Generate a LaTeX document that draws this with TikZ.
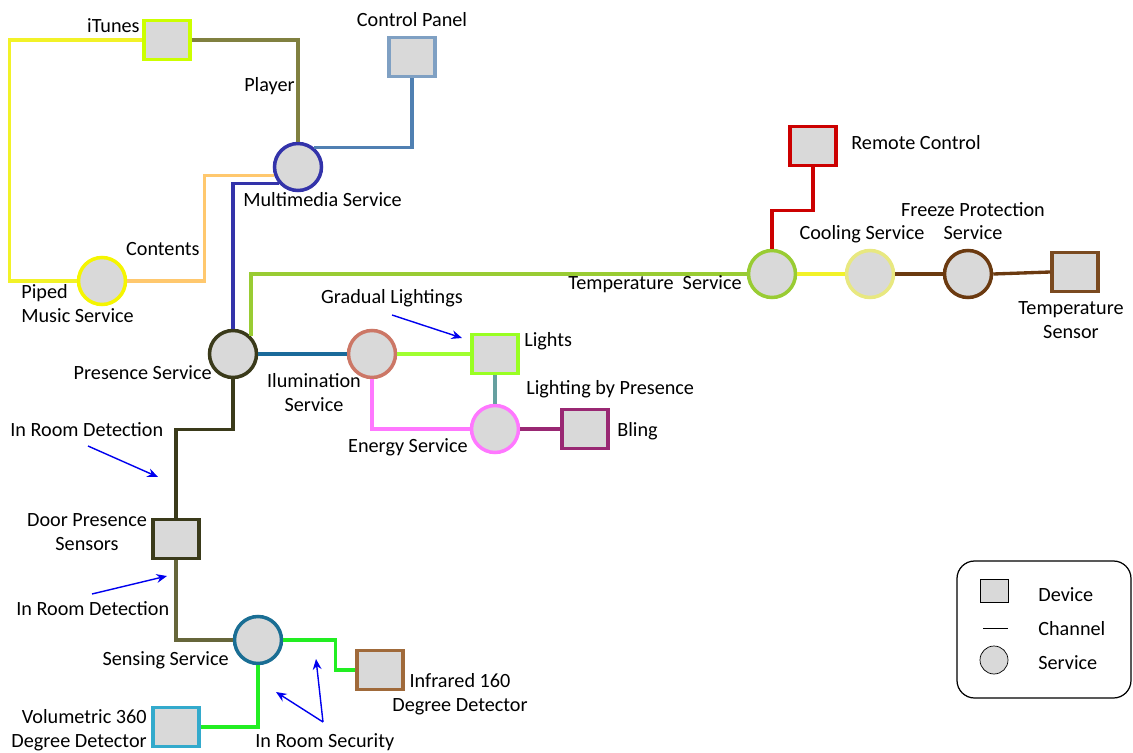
\documentclass[tikz,border=0pt]{standalone}
\usepackage{fontspec}
\setmainfont{Carlito}
\usetikzlibrary{arrows.meta}

\definecolor{boxgray}{RGB}{217,217,217}
\definecolor{itunesc}{RGB}{204,255,0}
\definecolor{yelc}{RGB}{242,242,40}
\definecolor{pipedc}{RGB}{245,245,0}
\definecolor{olivec}{RGB}{128,128,64}
\definecolor{panelc}{RGB}{127,160,195}
\definecolor{panelline}{RGB}{80,128,178}
\definecolor{mmc}{RGB}{51,51,170}
\definecolor{orangec}{RGB}{255,200,110}
\definecolor{tempc}{RGB}{153,204,51}
\definecolor{presc}{RGB}{58,58,26}
\definecolor{tealc}{RGB}{26,106,154}
\definecolor{ilumc}{RGB}{204,119,102}
\definecolor{limec}{RGB}{160,255,48}
\definecolor{lightsc}{RGB}{153,255,34}
\definecolor{grayteal}{RGB}{102,160,160}
\definecolor{pinkc}{RGB}{255,119,255}
\definecolor{blingc}{RGB}{153,40,115}
\definecolor{coolc}{RGB}{232,232,128}
\definecolor{brownc}{RGB}{107,58,16}
\definecolor{sensorc}{RGB}{122,74,32}
\definecolor{remotec}{RGB}{204,0,0}
\definecolor{greyolive}{RGB}{102,102,58}
\definecolor{sensec}{RGB}{26,110,148}
\definecolor{greenc}{RGB}{34,238,34}
\definecolor{infrac}{RGB}{160,106,58}
\definecolor{volc}{RGB}{51,170,204}
\definecolor{notec}{RGB}{0,0,238}

\begin{document}
\begin{tikzpicture}[x=0.02cm,y=-0.02cm,font=\fontsize{11.5}{13.6}\selectfont]
    \tikzset{device/.style = {draw,fill=boxgray,line width=2pt,minimum width=0.92cm,minimum height=0.78cm,inner sep=0}}
    \tikzset{service/.style = {shape=circle,draw,fill=boxgray,line width=2pt,minimum size=0.94cm,inner sep=0}}
    \tikzset{channel/.style = {line width=1.9pt}}
    \tikzset{note/.style = {-{Stealth[length=6pt,width=5pt]},notec,line width=0.8pt}}
    \tikzset{lbl/.style = {inner sep=0}}
    \useasboundingbox (0,0) rectangle (1133,753);

    \node[device,draw=itunesc] (itunes) at (167,40) {};
    \node[device,draw=panelc] (panel) at (412,57) {};
    \node[service,draw=mmc] (mm) at (298,167) {};
    \node[service,draw=pipedc] (piped) at (102,281) {};
    \node[service,draw=presc] (pres) at (233,354) {};
    \node[service,draw=ilumc] (ilum) at (372,354) {};
    \node[device,draw=lightsc] (lights) at (495,354) {};
    \node[service,draw=pinkc] (energy) at (495,429) {};
    \node[device,draw=blingc] (bling) at (585,429) {};
    \node[service,draw=tempc] (temp) at (772,274) {};
    \node[service,draw=coolc] (cool) at (870,274) {};
    \node[service,draw=brownc] (freeze) at (968,274) {};
    \node[device,draw=sensorc] (tsensor) at (1075,272) {};
    \node[device,draw=remotec] (remote) at (813,146) {};
    \node[device,draw=presc] (door) at (176,539) {};
    \node[service,draw=sensec] (sense) at (258,640) {};
    \node[device,draw=infrac] (infra) at (380,670) {};
    \node[device,draw=volc] (vol) at (176,727) {};

    \draw[channel,yelc] (itunes.west) -- ++(-133,0) |- (piped.west);
    \draw[channel,olivec] (itunes.east) -| (mm.north);
    \draw[channel,panelline] (mm.50) -| (panel.south);
    \draw[channel,orangec] (piped.east) -- ++(77,0) |- (mm.199);
    \draw[channel,mmc] (mm.220) -| (pres.north);
    \draw[channel,tempc] (pres.45) |- (temp.west);
    \draw[channel,tealc] (pres.east) -- (ilum.west);
    \draw[channel,limec] (ilum.east) -- (lights.west);
    \draw[channel,grayteal] (lights.south) -- (energy.north);
    \draw[channel,pinkc] (ilum.south) |- (energy.west);
    \draw[channel,blingc] (energy.east) -- (bling.west);
    \draw[channel,yelc] (temp.east) -- (cool.west);
    \draw[channel,brownc] (cool.east) -- (freeze.west);
    \draw[channel,brownc] (freeze.east) -- (tsensor.west);
    \draw[channel,remotec] (remote.south) -- ++(0,43) -| (temp.north);
    \draw[channel,presc] (pres.south) -- ++(0,50) -| (door.north);
    \draw[channel,greyolive] (door.south) |- (sense.west);
    \draw[channel,greenc] (sense.east) -- ++(52,0) |- (infra.west);
    \draw[channel,greenc] (sense.south) |- (vol.east);

    \node[lbl,anchor=base east] at (140,33) {iTunes};
    \node[lbl,anchor=base] at (412,27) {Control Panel};
    \node[lbl,anchor=base east] at (295,92) {Player};
    \node[lbl,anchor=base west] at (243,207) {Multimedia Service};
    \node[lbl,anchor=base east] at (200,256) {Contents};
    \node[lbl,anchor=base west,align=left] at (21,322) {Piped\\Music Service};
    \node[lbl,anchor=base west] at (851,150) {Remote Control};
    \node[lbl,anchor=base,align=center] at (973,240) {Freeze Protection\\Service};
    \node[lbl,anchor=base] at (862,240) {Cooling Service};
    \node[lbl,anchor=base east] at (742,290) {Temperature~~Service};
    \node[lbl,anchor=base,align=center] at (1071,338) {Temperature\\Sensor};
    \node[lbl,anchor=base] at (392,304) {Gradual Lightings};
    \node[lbl,anchor=base west] at (524,346) {Lights};
    \node[lbl,anchor=base east] at (212,379) {Presence Service};
    \node[lbl,anchor=base,align=center] at (314,411) {Ilumination\\Service};
    \node[lbl,anchor=base west] at (526,395) {Lighting by Presence};
    \node[lbl,anchor=base west] at (617,436) {Bling};
    \node[lbl,anchor=base east] at (468,452) {Energy Service};
    \node[lbl,anchor=base west] at (10,436) {In Room Detection};
    \node[lbl,anchor=base,align=center] at (87,550) {Door Presence\\Sensors};
    \node[lbl,anchor=base west] at (16,615) {In Room Detection};
    \node[lbl,anchor=base east] at (229,665) {Sensing Service};
    \node[lbl,anchor=base,align=center] at (460,711) {Infrared 160\\Degree Detector};
    \node[lbl,anchor=base east,align=right] at (147,747) {Volumetric 360\\Degree Detector};
    \node[lbl,anchor=base west] at (255,747) {In Room Security};

    \coordinate (glFrom) at (392,315);
    \coordinate (glTo) at (462,338);
    \coordinate (irdFrom) at (88,446);
    \coordinate (irdTo) at (158,477);
    \coordinate (irdFrom2) at (92,594);
    \coordinate (irdTo2) at (167,576);
    \coordinate (irsFrom) at (323,722);
    \coordinate (irsTo) at (276,692);
    \coordinate (irsTo2) at (316,659);
    \draw[note] (glFrom) -- (glTo);
    \draw[note] (irdFrom) -- (irdTo);
    \draw[note] (irdFrom2) -- (irdTo2);
    \draw[note] (irsFrom) -- (irsTo);
    \draw[note] (irsFrom) -- (irsTo2);

    \draw[line width=0.7pt,rounded corners=10] (957,561) rectangle (1131,698);
    \node[draw,fill=boxgray,minimum width=0.56cm,minimum height=0.46cm] (ldevice) at (994,591) {};
    \draw (983,628) -- (1008,628);
    \node[draw,fill=boxgray,circle,minimum size=0.56cm] (lservice) at (994,660) {};
    \node[lbl,anchor=base west] at (1038,601) {Device};
    \node[lbl,anchor=base west] at (1038,635) {Channel};
    \node[lbl,anchor=base west] at (1038,669) {Service};
\end{tikzpicture}
\end{document}
